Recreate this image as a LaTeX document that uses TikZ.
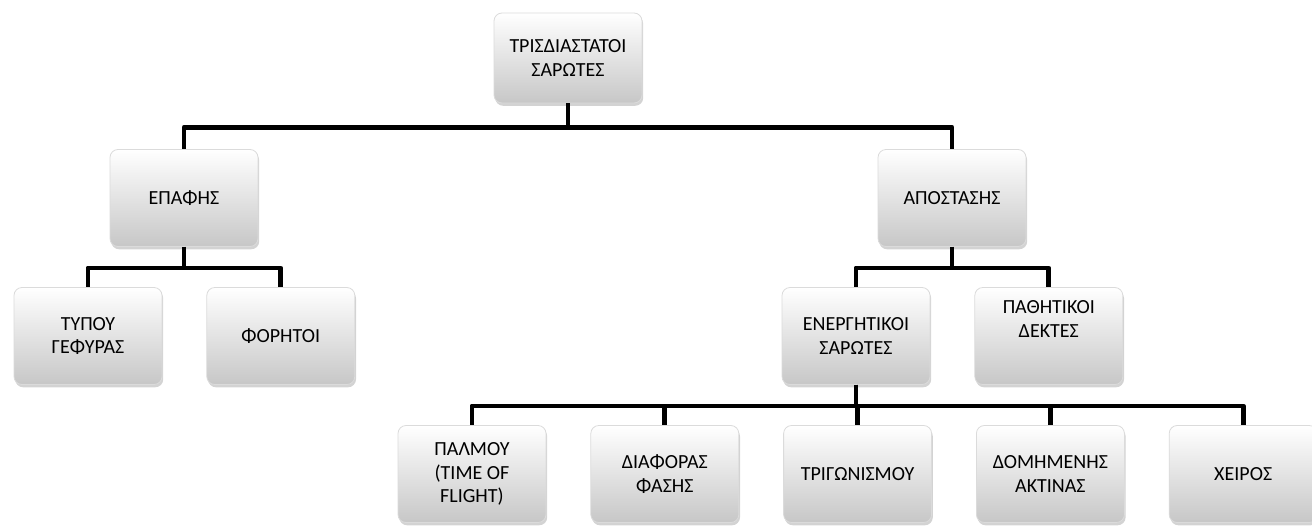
\documentclass[tikz,border=0pt]{standalone}
\usepackage{fontspec}
\setmainfont{Carlito}
\usepackage{tikz}
\usetikzlibrary{positioning,shadows}
\tikzset{
  box/.style={rectangle, rounded corners=4pt, draw=black!14, align=center,
              font=\fontsize{10}{11.6}\selectfont, text=black,
              minimum width=74pt, minimum height=48.5pt, inner sep=2pt,
              top color=white, bottom color=black!22,
              drop shadow={shadow xshift=0.6pt, shadow yshift=-1.4pt, opacity=0.35}},
  conn/.style={line width=2.4pt, line join=round, line cap=butt},
}
\begin{document}
\begin{tikzpicture}
\useasboundingbox (0pt,0pt) rectangle (656pt,-262.5pt);
% top level
\node[box, minimum height=45pt] (root) at (284pt,-29pt) {ΤΡΙΣΔΙΑΣΤΑΤΟΙ\\ΣΑΡΩΤΕΣ};
% second level
\node[box] (epafis) at (92pt,-99pt) {ΕΠΑΦΗΣ};
\node[box] (apostasis) at (476pt,-99pt) {ΑΠΟΣΤΑΣΗΣ};
% third level
\node[box] (gefyra) at (44pt,-168pt) {ΤΥΠΟΥ\\ΓΕΦΥΡΑΣ};
\node[box, right=22pt of gefyra] (foritoi) {ΦΟΡΗΤΟΙ};
\node[box] (energ) at (428pt,-168pt) {ΕΝΕΡΓΗΤΙΚΟΙ\\ΣΑΡΩΤΕΣ};
\node[box, right=22pt of energ, text depth=17pt] (pathit) {ΠΑΘΗΤΙΚΟΙ\\ΔΕΚΤΕΣ};
% fourth level
\node[box] (palmou) at (236pt,-237pt) {ΠΑΛΜΟΥ\\(TIME OF\\FLIGHT)};
\node[box, right=22pt of palmou] (fasis) {ΔΙΑΦΟΡΑΣ\\ΦΑΣΗΣ};
\node[box, right=22pt of fasis] (trig) {ΤΡΙΓΩΝΙΣΜΟΥ};
\node[box, right=22pt of trig] (domim) {ΔΟΜΗΜΕΝΗΣ\\ΑΚΤΙΝΑΣ};
\node[box, right=22pt of domim] (xeir) {ΧΕΙΡΟΣ};
% connectors
\foreach \c in {epafis,apostasis}
  \draw[conn] (root.south) -- ++(0,-12pt) -| (\c.north);
\foreach \c in {gefyra,foritoi}
  \draw[conn] (epafis.south) -- ++(0,-10.5pt) -| (\c.north);
\foreach \c in {energ,pathit}
  \draw[conn] (apostasis.south) -- ++(0,-10.5pt) -| (\c.north);
\foreach \c in {palmou,fasis,trig,domim,xeir}
  \draw[conn] (energ.south) -- ++(0,-10.5pt) -| (\c.north);
\end{tikzpicture}
\end{document}
